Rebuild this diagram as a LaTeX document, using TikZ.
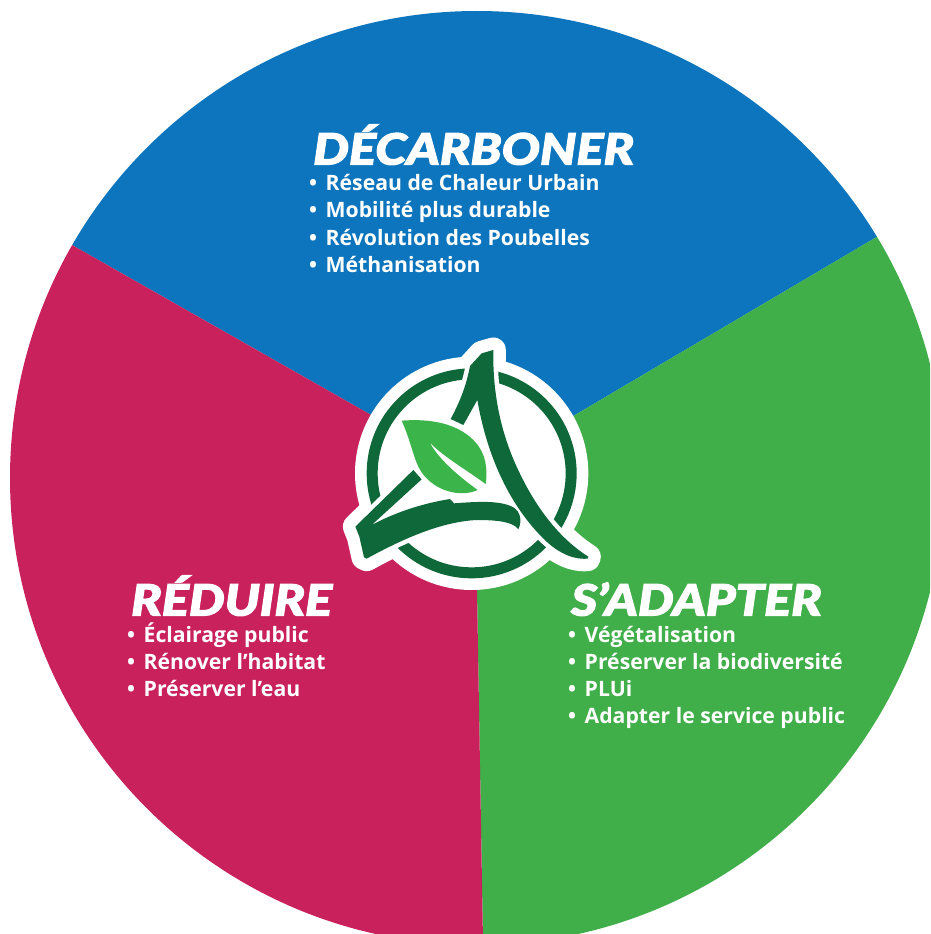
\documentclass[tikz,border=0pt]{standalone}
\usepackage{fontspec}
\setmainfont{Open Sans}[BoldFont=* Bold]
\newfontfamily\titlefont{Lato Black Italic}[FakeStretch=1.175,FakeBold=3]
\definecolor{cblue}{HTML}{0C75BD}
\definecolor{cred}{HTML}{C8215B}
\definecolor{cgreen}{HTML}{40AE49}
\definecolor{cdark}{HTML}{0F6839}
\definecolor{cleaf}{HTML}{3BB54A}
\tikzset{
  title/.style={anchor=base west,inner sep=0pt,text=white,font=\titlefont\fontsize{43}{43}\selectfont},
  itemline/.style={anchor=base west,inner sep=0pt,text=white,font=\bfseries\fontsize{21.2}{21.2}\selectfont},
  halo/.style={draw=white,fill=white,line width=25pt,line join=round},
  gap/.style={draw=white,line width=9pt,line join=round},
}
\newcommand{\bul}{\makebox[16.5pt][l]{•}}
\def\peakpath{(490,90) .. controls (488,200) and (505,320) .. (560,440) .. controls (610,550) and (680,650) .. (775,710) -- (773,716) .. controls (720,720) and (670,690) .. (625,640) .. controls (550,560) and (475,430) .. (442,240) -- (400,315) -- (362,297) .. controls (395,235) and (410,190) .. (420,138) -- (455,100) -- cycle}
\def\swooshpath{(76,620) -- (250,450) -- (275,478) -- (125,615) .. controls (200,575) and (280,550) .. (360,537) -- (372,550) .. controls (440,545) and (510,540) .. (550,562) .. controls (570,575) and (578,600) .. (565,628) .. controls (550,605) and (500,600) .. (440,600) .. controls (340,605) and (230,650) .. (110,716) -- (102,712) -- (88,650) -- cycle}
\def\leafpath{(215,302) .. controls (300,295) and (380,310) .. (430,360) .. controls (470,400) and (473,450) .. (467,492) .. controls (410,450) and (340,410) .. (300,368) .. controls (320,410) and (380,465) .. (443,510) .. controls (400,530) and (330,520) .. (285,470) .. controls (250,430) and (250,380) .. (215,302) -- cycle}
\begin{document}
\begin{tikzpicture}[x=1pt,y=-1pt]
\useasboundingbox (0,0) rectangle (930,934);
\begin{scope}
\clip (0,0) rectangle (930,934);
\clip (477,478) circle[radius=467pt];
\coordinate (c) at (475,474);
\fill[cblue] (c) -- (72,245) -- (-60,169) -- (-10,-10) -- (940,-10) -- (1000,160) -- (875,238) -- cycle;
\fill[cgreen] (c) -- (875,238) -- (1000,160) -- (1000,1000) -- (484,1000) -- (477,590) -- cycle;
\fill[cred] (c) -- (72,245) -- (-60,169) -- (-60,1000) -- (484,1000) -- (477,590) -- cycle;
\end{scope}
\begin{scope}[shift={(330,320)},scale=1/3]
\fill[white] (425,460) circle[radius=350];
\path[halo] \peakpath;
\path[halo] \swooshpath;
\fill[cdark,even odd rule] (425,460) circle[radius=315] (425,460) circle[radius=282];
\path[gap] \peakpath;
\path[gap] \swooshpath;
\fill[cdark] \peakpath;
\fill[cdark] \swooshpath;
\fill[cleaf] \leafpath;
\end{scope}
\node[title] (t1) at (313,164.5) {DÉCARBONER};
\node[itemline] (a1) at (309,190.5) {\bul Réseau de Chaleur Urbain};
\node[itemline] (a2) at (309,217.8) {\bul Mobilité plus durable};
\node[itemline] (a3) at (309,245.1) {\bul Révolution des Poubelles};
\node[itemline] (a4) at (309,272.5) {\bul Méthanisation};
\node[title] (t2) at (131,615.5) {RÉDUIRE};
\node[itemline] (b1) at (127,642.5) {\bul Éclairage public};
\node[itemline] (b2) at (127,669.5) {\bul Rénover l’habitat};
\node[itemline] (b3) at (127,696.5) {\bul Préserver l’eau};
\node[title] (t3) at (571,615.5) {S’ADAPTER};
\node[itemline] (c1) at (568,642.5) {\bul Végétalisation};
\node[itemline] (c2) at (568,669.5) {\bul Préserver la biodiversité};
\node[itemline] (c3) at (568,696.5) {\bul PLUi};
\node[itemline] (c4) at (568,723.5) {\bul Adapter le service public};
\end{tikzpicture}
\end{document}
